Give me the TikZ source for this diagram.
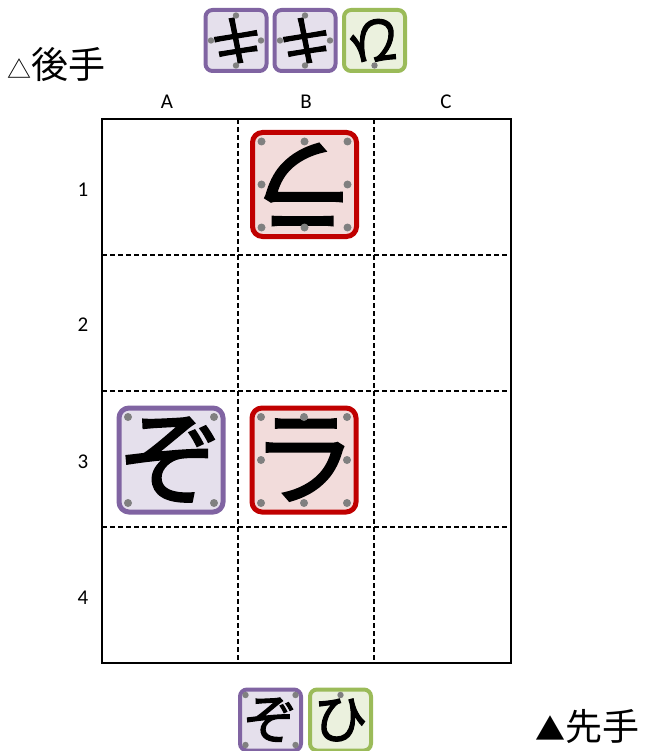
\documentclass[tikz,border=0pt]{standalone}
\usepackage{fontspec}
\setmainfont{Carlito}
\newfontfamily\jp{Noto Sans CJK JP}
\newfontfamily\jpb[FakeBold=2]{Noto Sans CJK JP}
\definecolor{purpline}{HTML}{8064A2}
\definecolor{purpfill}{HTML}{E5E0EC}
\definecolor{redline}{HTML}{C00000}
\definecolor{redfill}{HTML}{F2DCDB}
\definecolor{greenline}{HTML}{9BBB59}
\definecolor{greenfill}{HTML}{EBF1DE}
\definecolor{dotc}{HTML}{808080}
\tikzset{
  bigpiece/.style={draw, line width=5pt, rounded corners=10pt, minimum size=104pt, inner sep=0pt, font=\jpb\fontsize{104}{104}\selectfont},
  smallpiece/.style={draw, line width=4pt, rounded corners=7pt, minimum size=61pt, inner sep=0pt, font=\jpb\fontsize{54}{54}\selectfont},
  lionp/.style={draw=redline, fill=redfill},
  zoup/.style={draw=purpline, fill=purpfill},
  kirinp/.style={draw=purpline, fill=purpfill},
  hiyokop/.style={draw=greenline, fill=greenfill},
  outerline/.style={line width=2pt},
  innerline/.style={line width=1.6pt, dash pattern=on 5pt off 3pt},
  coordlabel/.style={font=\fontsize{21}{21}\selectfont},
  playerlabel/.style={font=\jp\fontsize{37}{37}\selectfont, inner sep=0pt}
}
\newcommand{\bigdots}[2]{\foreach \dx/\dy in {#2} \fill[dotc] ([shift={(\dx,\dy)}]#1.center) circle (4);}
\newcommand{\smalldots}[2]{\foreach \dx/\dy in {#2} \fill[dotc] ([shift={(\dx,\dy)}]#1.center) circle (3.2);}
\begin{document}
\begin{tikzpicture}[x=1pt,y=-1pt]
\useasboundingbox (0,0) rectangle (645,751);
% board
\draw[innerline] (238,119) -- (238,663) (374,119) -- (374,663);
\draw[innerline] (102,255) -- (511,255) (102,391) -- (511,391) (102,527) -- (511,527);
\draw[outerline] (102,119) rectangle (511,663);
% labels
\node[coordlabel] (colA) at (167,102) {A};
\node[coordlabel] (colB) at (306,102) {B};
\node[coordlabel] (colC) at (446,102) {C};
\node[coordlabel] (row1) at (83,190) {1};
\node[coordlabel] (row2) at (83,325) {2};
\node[coordlabel] (row3) at (83,462) {3};
\node[coordlabel] (row4) at (83,598) {4};
% board pieces
\node[bigpiece, lionp, rotate=180] (b1) at (304.5,184.5) {ラ};
\bigdots{b1}{-43/-43,0/-43,43/-43,-43/0,43/0,-43/43,0/43,43/43}
\node[bigpiece, zoup] (a3) at (171,460) {ぞ};
\bigdots{a3}{-43/-43,43/-43,-43/43,43/43}
\node[bigpiece, lionp] (b3) at (304,460) {ラ};
\bigdots{b3}{-43/-43,0/-43,43/-43,-43/0,43/0,-43/43,0/43,43/43}
% gote hand
\node[smallpiece, kirinp, rotate=180] (gh1) at (236,40.5) {キ};
\smalldots{gh1}{0/-25,-25/0,25/0,0/25}
\node[smallpiece, kirinp, rotate=180] (gh2) at (305,40.5) {キ};
\smalldots{gh2}{0/-25,-25/0,25/0,0/25}
\node[smallpiece, hiyokop, rotate=180] (gh3) at (374.5,40.5) {ひ};
\smalldots{gh3}{0/25}
% sente hand
\node[smallpiece, zoup] (sh1) at (270.5,720) {ぞ};
\smalldots{sh1}{-25/-25,25/-25,-25/25,25/25}
\node[smallpiece, hiyokop] (sh2) at (340.5,720) {ひ};
\smalldots{sh2}{0/-25}
% player labels
\node[playerlabel, anchor=west] (gote) at (7,64) {{\fontsize{24}{24}\selectfont △}後手};
\node[playerlabel, anchor=east] (sente) at (640,727) {{\fontsize{30}{30}\selectfont ▲}先手};
\end{tikzpicture}
\end{document}
